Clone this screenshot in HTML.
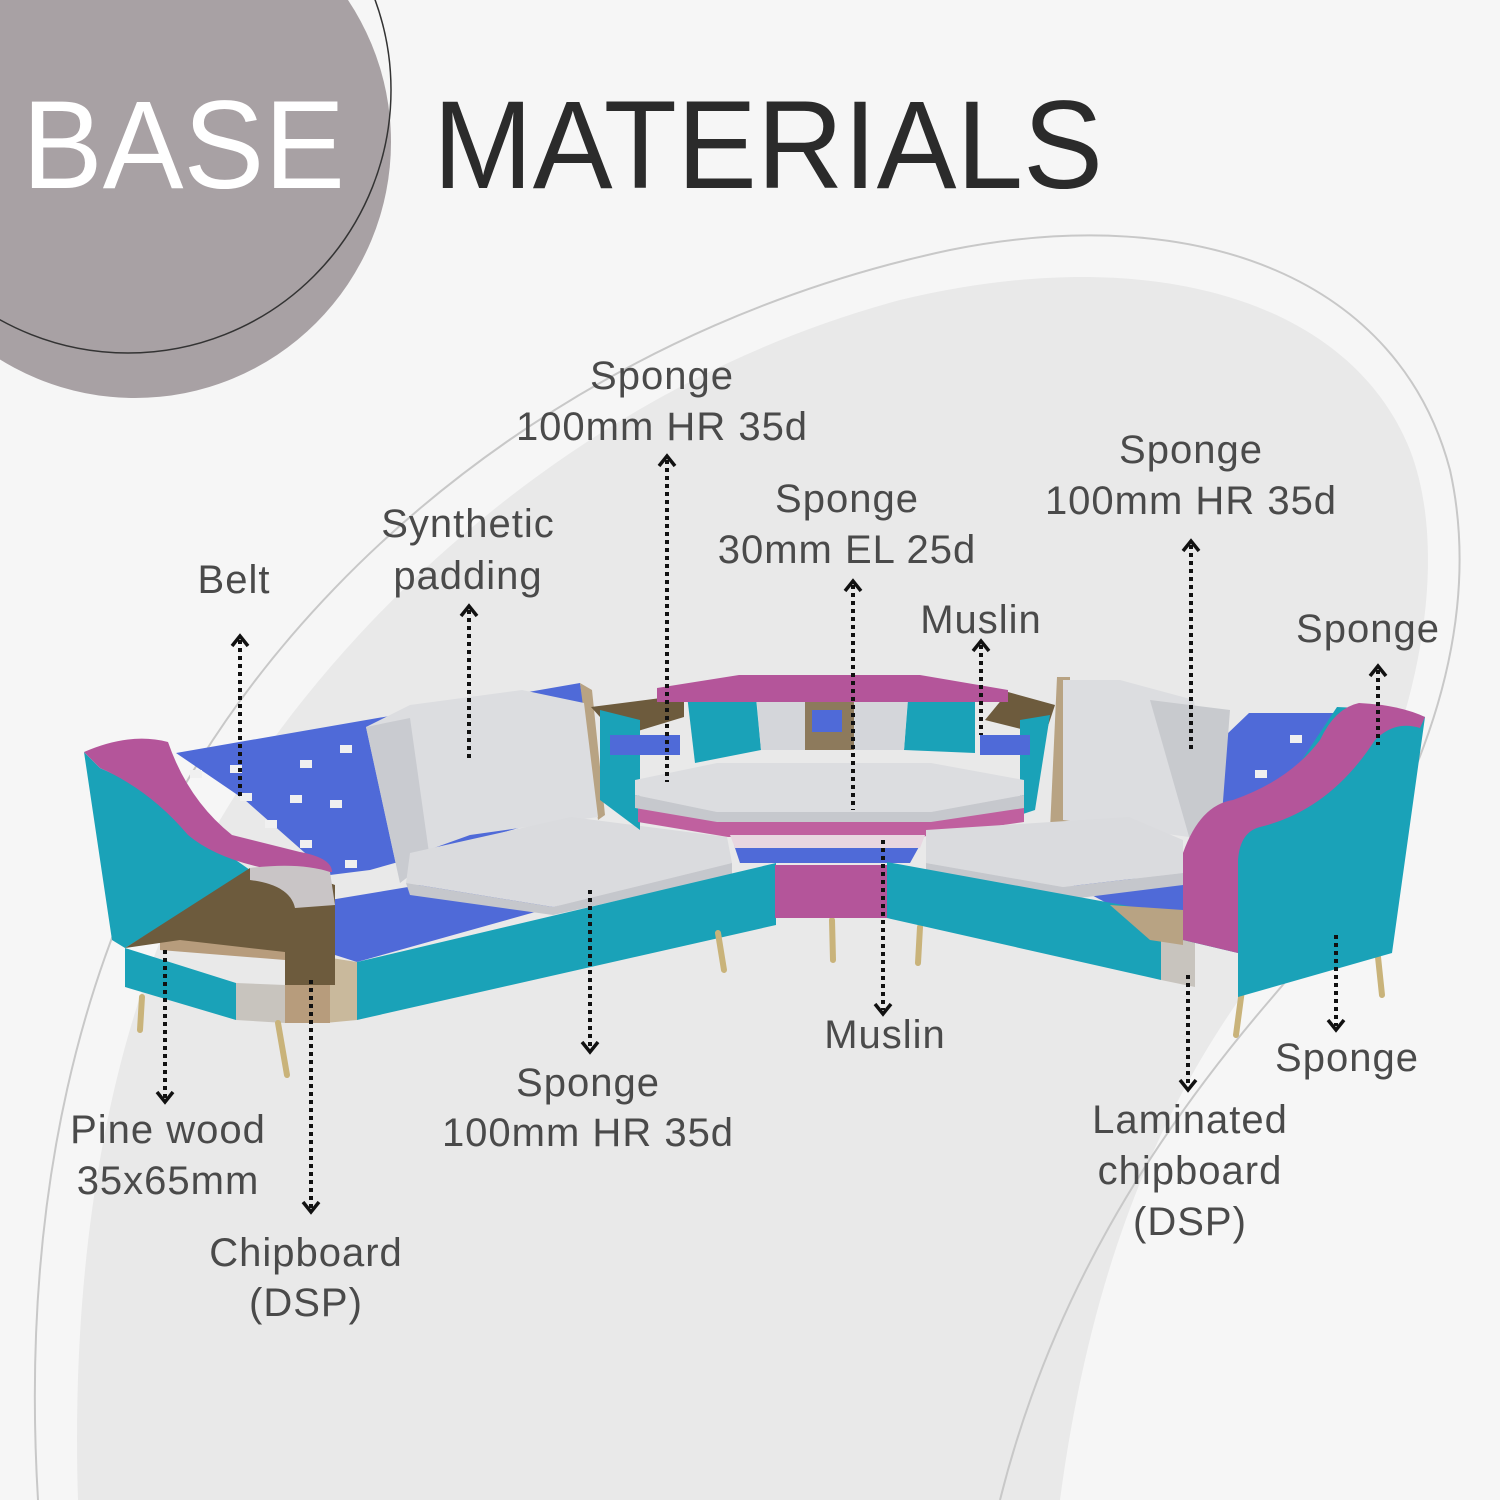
<!DOCTYPE html>
<html><head><meta charset="utf-8"><style>
html,body{margin:0;padding:0;background:#f6f6f6}
svg{display:block}
text{font-family:"Liberation Sans",sans-serif}
.l{font-size:40px;fill:#4a4a4a;text-anchor:middle;letter-spacing:1px}
.d{stroke:#111;stroke-width:4;stroke-dasharray:4 4;fill:none}
.h{stroke:#111;stroke-width:3.5;fill:none}
</style></head><body>
<svg width="1500" height="1500" viewBox="0 0 1500 1500" xmlns="http://www.w3.org/2000/svg">
<rect width="1500" height="1500" fill="#f6f6f6"/>
<!-- blob fill -->
<path d="M78,1500 C70,1250 110,1000 220,820 C350,600 600,380 900,300 C1150,240 1350,300 1410,450 C1460,580 1400,800 1300,920 C1200,1040 1100,1200 1060,1500 Z" fill="#e9e9e9"/>
<!-- blob outline -->
<path d="M38,1500 C20,1200 80,950 200,760 C350,520 620,320 950,250 C1200,200 1400,280 1450,470 C1490,650 1400,850 1270,1000 C1150,1140 1050,1300 1000,1500" fill="none" stroke="#c8c8c8" stroke-width="2"/>
<!-- top left circle -->
<circle cx="135" cy="142" r="256" fill="#a8a1a4"/>
<circle cx="128" cy="90" r="263" fill="none" stroke="#333" stroke-width="1.5"/>
<text x="22" y="188" font-size="125" fill="#fff" textLength="323" lengthAdjust="spacingAndGlyphs">BASE</text>
<text x="433" y="188" font-size="125" fill="#2b2b2b" textLength="670" lengthAdjust="spacingAndGlyphs">MATERIALS</text>

<!-- ===== SOFA ===== -->
<!-- left blue back belts -->
<polygon points="176,753 580,683 600,805 370,870 330,875 245,800" fill="#4f6ad8"/>
<g fill="#f0f0f0">
<rect x="190" y="770" width="12" height="8"/><rect x="230" y="765" width="12" height="8"/><rect x="265" y="820" width="12" height="8"/><rect x="300" y="760" width="12" height="8"/><rect x="240" y="793" width="12" height="8"/><rect x="330" y="800" width="12" height="8"/><rect x="300" y="840" width="12" height="8"/><rect x="340" y="745" width="12" height="8"/><rect x="345" y="860" width="12" height="8"/><rect x="290" y="795" width="12" height="8"/>
</g>
<!-- left back frame wood -->
<polygon points="580,683 592,690 605,815 598,820" fill="#b8a383"/>
<!-- left seat blue -->
<polygon points="330,900 420,885 560,905 357,962 335,955" fill="#4f6ad8"/>
<!-- back cushion -->
<polygon points="366,727 410,705 522,690 584,703 598,817 470,835 420,853 400,883" fill="#dcdde0"/>
<polygon points="366,727 410,718 430,860 400,883" fill="#c9cbd0"/>
<!-- seat cushion -->
<polygon points="410,853 571,817 727,837 732,863 553,907 406,883" fill="#dadbde"/>
<polygon points="406,883 553,907 732,863 732,875 553,915 410,895" fill="#c5c7cc"/>
<!-- left front base -->
<polygon points="357,962 776,863 776,925 357,1020" fill="#1aa2b8"/>
<polygon points="325,957 357,962 357,1020 325,1023" fill="#c9b99c"/>
<!-- left arm front panel -->
<polygon points="125,948 236,983 236,1020 125,987" fill="#1aa2b8"/>
<polygon points="236,983 285,985 285,1023 236,1020" fill="#c8c4be"/>
<polygon points="160,937 330,950 330,1023 285,1023 285,960 160,950" fill="#b79c7c"/>
<!-- left arm teal -->
<polygon points="84,752 100,768 160,795 200,835 250,870 125,948 112,940" fill="#1aa2b8"/>
<!-- pink arm -->
<path d="M84,752 Q130,732 168,742 Q188,800 232,835 L300,852 Q332,858 332,872 L285,872 Q220,862 188,835 Q150,790 100,768 Z" fill="#b4559a"/>
<!-- brown cut -->
<polygon points="125,948 250,868 300,872 335,885 335,985 285,985 285,952 180,940" fill="#6d5b3d"/>
<path d="M250,868 Q300,862 330,872 L335,905 L295,908 Q290,885 250,880 Z" fill="#c9c5c6"/>
<!-- left legs -->
<g stroke="#c9b37a" stroke-width="6" stroke-linecap="round">
<line x1="142" y1="997" x2="140" y2="1030"/><line x1="278" y1="1023" x2="287" y2="1075"/><line x1="718" y1="933" x2="724" y2="970"/>
<line x1="832" y1="920" x2="833" y2="960"/><line x1="920" y1="927" x2="918" y2="963"/>
<line x1="1242" y1="990" x2="1236" y2="1035"/><line x1="1378" y1="957" x2="1382" y2="995"/>
</g>

<!-- ===== CENTER ===== -->
<polygon points="591,707 684,695 684,717 618,737" fill="#6d5b3d"/>
<polygon points="1008,692 1055,705 1045,735 985,720" fill="#6d5b3d"/>
<polygon points="600,710 640,720 640,830 600,800" fill="#1aa2b8"/>
<polygon points="1020,720 1050,715 1035,810 1020,815" fill="#1aa2b8"/>
<rect x="610" y="735" width="70" height="20" fill="#4f6ad8"/>
<rect x="980" y="735" width="50" height="20" fill="#4f6ad8"/>
<polygon points="687,695 755,687 761,750 695,763" fill="#1aa2b8"/>
<polygon points="909,687 975,697 975,753 904,750" fill="#1aa2b8"/>
<polygon points="755,682 805,682 805,750 761,750" fill="#d4d6da"/>
<polygon points="854,682 909,682 904,750 854,750" fill="#d4d6da"/>
<rect x="805" y="685" width="49" height="65" fill="#8d7a5c"/>
<rect x="812" y="710" width="30" height="22" fill="#4f6ad8"/>
<polygon points="657,688 739,675 920,675 1008,690 1008,702 657,702" fill="#b4559a"/>
<!-- pink layer -->
<polygon points="638,808 718,818 930,818 1024,807 1024,822 920,837 728,837 638,822" fill="#c0609f"/>
<!-- grey seat -->
<polygon points="635,780 717,763 931,763 1024,780 1024,795 931,812 717,812 635,795" fill="#dcdde0"/>
<polygon points="635,795 717,812 931,812 1024,795 1024,808 931,822 717,822 635,808" fill="#c6c8cd"/>
<polygon points="734,845 920,845 910,863 740,863" fill="#4f6ad8"/>
<polygon points="730,835 925,835 920,848 735,848" fill="#e8d6e0"/>
<!-- pink front block -->
<polygon points="775,865 890,865 890,918 775,918" fill="#b4559a"/>

<!-- ===== RIGHT ===== -->
<polygon points="1249,713 1337,713 1340,793 1200,860 1200,760" fill="#4f6ad8"/>
<g fill="#f0f0f0"><rect x="1290" y="735" width="12" height="8"/><rect x="1255" y="770" width="12" height="8"/><rect x="1300" y="770" width="12" height="8"/><rect x="1260" y="800" width="12" height="8"/></g>
<polygon points="1057,677 1070,677 1070,827 1050,830" fill="#b8a383"/>
<polygon points="1063,680 1120,680 1194,700 1211,840 1063,820" fill="#dcdde0"/>
<polygon points="1150,700 1230,710 1220,840 1190,840" fill="#c8cace"/>
<polygon points="1063,880 1183,878 1183,927 1120,910" fill="#4f6ad8"/>
<polygon points="926,830 1129,817 1183,840 1183,873 1063,887 926,863" fill="#dadbde"/>
<polygon points="926,863 1063,887 1183,873 1183,885 1063,900 926,873" fill="#c5c7cc"/>
<!-- right front base -->
<polygon points="887,862 1161,912 1161,980 887,918" fill="#1aa2b8"/>
<polygon points="1161,912 1183,915 1195,943 1195,987 1161,980" fill="#c8c4be"/>
<polygon points="1110,905 1183,910 1183,945 1150,940" fill="#b8a383"/>
<!-- right arm -->
<polygon points="1183,853 1260,823 1337,707 1403,710 1425,717 1392,953 1238,997 1238,953 1183,940" fill="#1aa2b8"/>
<path d="M1183,853 Q1200,805 1233,800 Q1290,780 1320,740 Q1335,708 1359,703 Q1400,705 1425,717 L1420,728 Q1395,720 1375,740 Q1330,810 1260,827 Q1240,832 1238,860 L1238,953 L1183,940 Z" fill="#b4559a"/>

<!-- ===== ARROWS ===== -->
<g>
<line class="d" x1="667" y1="460" x2="667" y2="782"/><polyline class="h" points="659,466 667,456 675,466"/>
<line class="d" x1="469" y1="610" x2="469" y2="760"/><polyline class="h" points="461,616 469,606 477,616"/>
<line class="d" x1="240" y1="640" x2="240" y2="800"/><polyline class="h" points="232,646 240,636 248,646"/>
<line class="d" x1="853" y1="585" x2="853" y2="810"/><polyline class="h" points="845,591 853,581 861,591"/>
<line class="d" x1="981" y1="645" x2="981" y2="735"/><polyline class="h" points="973,651 981,641 989,651"/>
<line class="d" x1="1191" y1="545" x2="1191" y2="752"/><polyline class="h" points="1183,551 1191,541 1199,551"/>
<line class="d" x1="1378" y1="670" x2="1378" y2="745"/><polyline class="h" points="1370,676 1378,666 1386,676"/>
<line class="d" x1="165" y1="950" x2="165" y2="1098"/><polyline class="h" points="157,1092 165,1102 173,1092"/>
<line class="d" x1="311" y1="980" x2="311" y2="1208"/><polyline class="h" points="303,1202 311,1212 319,1202"/>
<line class="d" x1="590" y1="890" x2="590" y2="1048"/><polyline class="h" points="582,1042 590,1052 598,1042"/>
<line class="d" x1="883" y1="840" x2="883" y2="1010"/><polyline class="h" points="875,1004 883,1014 891,1004"/>
<line class="d" x1="1188" y1="975" x2="1188" y2="1086"/><polyline class="h" points="1180,1080 1188,1090 1196,1080"/>
<line class="d" x1="1336" y1="935" x2="1336" y2="1026"/><polyline class="h" points="1328,1020 1336,1030 1344,1020"/>
</g>

<!-- ===== LABELS ===== -->
<text class="l" x="662" y="389">Sponge</text>
<text class="l" x="662" y="440">100mm HR 35d</text>
<text class="l" x="468" y="537">Synthetic</text>
<text class="l" x="468" y="589">padding</text>
<text class="l" x="234" y="593">Belt</text>
<text class="l" x="847" y="512">Sponge</text>
<text class="l" x="847" y="563">30mm EL 25d</text>
<text class="l" x="981" y="633">Muslin</text>
<text class="l" x="1191" y="463">Sponge</text>
<text class="l" x="1191" y="514">100mm HR 35d</text>
<text class="l" x="1368" y="642">Sponge</text>
<text class="l" x="168" y="1143">Pine wood</text>
<text class="l" x="168" y="1194">35x65mm</text>
<text class="l" x="306" y="1266">Chipboard</text>
<text class="l" x="306" y="1316">(DSP)</text>
<text class="l" x="588" y="1096">Sponge</text>
<text class="l" x="588" y="1146">100mm HR 35d</text>
<text class="l" x="885" y="1048">Muslin</text>
<text class="l" x="1347" y="1071">Sponge</text>
<text class="l" x="1190" y="1133">Laminated</text>
<text class="l" x="1190" y="1184">chipboard</text>
<text class="l" x="1190" y="1235">(DSP)</text>
</svg>
</body></html>
